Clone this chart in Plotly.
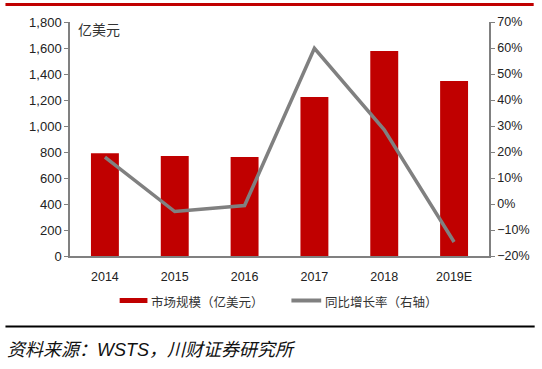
import plotly.graph_objects as go

years = ["2014", "2015", "2016", "2017", "2018", "2019E"]
market_size = [790, 769, 762, 1223, 1577, 1346]
yoy_growth = [18.0, -2.9, -0.6, 59.9, 28.5, -14.6]
bar_name = "市场规模（亿美元）"
line_name = "同比增长率（右轴）"
unit_label = "亿美元"
source_text = "资料来源：WSTS，川财证券研究所"

W, H = 542, 369
L, R, T, B = 70, 50, 22, 113

FONT = "Liberation Sans, Arial, Noto Sans CJK SC, sans-serif"
CJK = "Noto Sans CJK SC, sans-serif"
RED = "#C00000"
GRAY = "#808080"

fig = go.Figure()
fig.add_trace(go.Bar(x=years, y=market_size, name=bar_name, marker=dict(color=RED, line=dict(width=0)),
                     width=0.4, yaxis="y", showlegend=False))
fig.add_trace(go.Scatter(x=years, y=yoy_growth, name=line_name, mode="lines",
                         line=dict(color=GRAY, width=3.5), yaxis="y2", showlegend=False))

PW, PH = W - L - R, H - T - B

def fx(x):
    return (x - L) / PW

def fy(y):
    return (H - B - y) / PH

shapes = [
    dict(type="line", xref="paper", yref="paper", x0=fx(5), x1=fx(537), y0=fy(4.5), y1=fy(4.5),
         line=dict(color=RED, width=3)),
    dict(type="line", xref="paper", yref="paper", x0=fx(5), x1=fx(538), y0=fy(326.5), y1=fy(326.5),
         line=dict(color="black", width=2)),
    dict(type="rect", xref="paper", yref="paper", x0=fx(120), x1=fx(148), y0=fy(303), y1=fy(298),
         fillcolor=RED, line=dict(width=0)),
    dict(type="line", xref="paper", yref="paper", x0=fx(293), x1=fx(323), y0=fy(300.5), y1=fy(300.5),
         line=dict(color=GRAY, width=4)),
]

def ann(text, x, y, size, xanchor="left", italic=False, family=CJK, color="#333333"):
    return dict(text=("<i>%s</i>" % text) if italic else text, xref="paper", yref="paper",
                x=fx(x), y=fy(y), xanchor=xanchor, yanchor="middle",
                showarrow=False, font=dict(size=size, family=family, color=color))

annotations = [
    ann(unit_label, 76, 29, 14),
    ann(bar_name, 150, 301, 12.5),
    ann(line_name, 325, 301, 12.5),
    ann(source_text, 5, 350, 18, italic=True, family=FONT, color="#111111"),
]

fig.update_layout(
    width=W, height=H,
    margin=dict(l=L, r=R, t=T, b=B),
    paper_bgcolor="white", plot_bgcolor="white",
    font=dict(family=FONT, size=12, color="#222222"),
    xaxis=dict(showline=True, linecolor=GRAY, linewidth=1.5, ticks="", showgrid=False,
               tickfont=dict(size=12.5), ticklabelstandoff=8),
    yaxis=dict(range=[0, 1800], dtick=200, tickformat=",", showline=True, linecolor=GRAY, linewidth=1.5,
               ticks="outside", ticklen=4, tickcolor=GRAY, showgrid=False, zeroline=False,
               tickfont=dict(size=13)),
    yaxis2=dict(range=[-20, 70], dtick=10, ticksuffix="%", overlaying="y", side="right",
                showline=True, linecolor=GRAY, linewidth=1.5, ticks="outside", ticklen=4, tickcolor=GRAY,
                showgrid=False, zeroline=False, tickfont=dict(size=12.5)),
    shapes=shapes,
    annotations=annotations,
    showlegend=False,
)

fig.write_html("out.html", config={"displayModeBar": False},
               post_script="document.body.style.margin='0';document.body.style.overflow='hidden';")
